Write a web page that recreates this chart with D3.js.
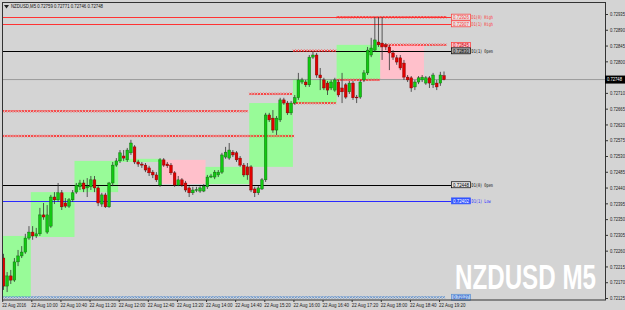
<!DOCTYPE html>
<html><head><meta charset="utf-8">
<script src="https://cdn.jsdelivr.net/npm/d3@7"></script>
<style>html,body{margin:0;padding:0;background:#d4d4d4;} svg{display:block}</style>
</head><body><svg id="c" width="625" height="310"></svg>
<script>
const open = [
0.72239,0.72159,0.72188,0.72176,0.72228,0.72245,0.72256,0.72296,0.72313,0.72302,
0.72308,0.72362,0.72313,0.72330,0.72413,0.72405,0.72425,0.72396,0.72387,0.72405,
0.72427,0.72442,0.72453,0.72439,0.72442,0.72462,0.72439,0.72393,0.72419,0.72385,
0.72453,0.72504,0.72516,0.72530,0.72519,0.72539,0.72556,0.72513,0.72507,0.72504,
0.72496,0.72484,0.72476,0.72447,0.72519,0.72507,0.72504,0.72482,0.72447,0.72462,
0.72453,0.72439,0.72425,0.72433,0.72430,0.72430,0.72442,0.72470,0.72470,0.72476,
0.72484,0.72527,0.72524,0.72541,0.72539,0.72524,0.72504,0.72499,0.72499,0.72436,
0.72425,0.72436,0.72462,0.72647,0.72638,0.72604,0.72633,0.72690,0.72681,0.72653,
0.72681,0.72696,0.72741,0.72741,0.72733,0.72812,0.72818,0.72761,0.72747,0.72738,
0.72724,0.72718,0.72741,0.72724,0.72733,0.72713,0.72738,0.72698,0.72698,0.72747,
0.72767,0.72818,0.72832,0.72855,0.72852,0.72847,0.72841,0.72824,0.72810,0.72810,
0.72795,0.72755,0.72753,0.72727,0.72741,0.72747,0.72738,0.72753,0.72733,0.72738,
0.72738,0.72759];
const close = [
0.72159,0.72188,0.72176,0.72228,0.72245,0.72256,0.72296,0.72313,0.72302,0.72308,
0.72362,0.72356,0.72362,0.72413,0.72405,0.72425,0.72385,0.72387,0.72405,0.72425,
0.72447,0.72453,0.72436,0.72444,0.72462,0.72439,0.72396,0.72419,0.72385,0.72453,
0.72504,0.72516,0.72539,0.72524,0.72547,0.72567,0.72513,0.72507,0.72504,0.72490,
0.72482,0.72476,0.72462,0.72519,0.72504,0.72502,0.72482,0.72447,0.72462,0.72447,
0.72433,0.72425,0.72433,0.72434,0.72439,0.72444,0.72470,0.72473,0.72484,0.72484,
0.72533,0.72541,0.72547,0.72533,0.72519,0.72504,0.72476,0.72476,0.72433,0.72425,
0.72439,0.72462,0.72647,0.72633,0.72604,0.72638,0.72690,0.72681,0.72653,0.72681,
0.72696,0.72747,0.72747,0.72733,0.72812,0.72818,0.72761,0.72753,0.72724,0.72718,
0.72741,0.72747,0.72704,0.72713,0.72698,0.72738,0.72696,0.72696,0.72741,0.72767,
0.72832,0.72838,0.72861,0.72847,0.72841,0.72841,0.72824,0.72812,0.72798,0.72781,
0.72755,0.72747,0.72724,0.72741,0.72753,0.72755,0.72753,0.72738,0.72761,0.72727,
0.72761,0.72748];
const high = [
0.72251,0.72199,0.72205,0.72239,0.72262,0.72273,0.72308,0.72330,0.72330,0.72325,
0.72382,0.72396,0.72390,0.72419,0.72427,0.72453,0.72433,0.72410,0.72410,0.72433,
0.72453,0.72462,0.72462,0.72467,0.72473,0.72473,0.72444,0.72425,0.72425,0.72456,
0.72513,0.72524,0.72547,0.72547,0.72553,0.72576,0.72561,0.72519,0.72513,0.72510,
0.72502,0.72490,0.72484,0.72524,0.72524,0.72513,0.72510,0.72487,0.72473,0.72467,
0.72459,0.72444,0.72442,0.72442,0.72444,0.72450,0.72476,0.72479,0.72490,0.72490,
0.72539,0.72556,0.72567,0.72547,0.72544,0.72530,0.72510,0.72510,0.72504,0.72442,
0.72444,0.72467,0.72653,0.72653,0.72661,0.72644,0.72696,0.72696,0.72687,0.72687,
0.72704,0.72767,0.72753,0.72747,0.72818,0.72827,0.72824,0.72781,0.72753,0.72744,
0.72747,0.72753,0.72747,0.72767,0.72738,0.72744,0.72744,0.72704,0.72747,0.72775,
0.72841,0.72867,0.72926,0.72926,0.72926,0.72852,0.72847,0.72832,0.72818,0.72818,
0.72804,0.72761,0.72758,0.72747,0.72758,0.72761,0.72758,0.72758,0.72767,0.72747,
0.72770,0.72771];
const low = [
0.72148,0.72142,0.72165,0.72171,0.72216,0.72239,0.72251,0.72291,0.72291,0.72296,
0.72302,0.72348,0.72308,0.72325,0.72393,0.72399,0.72376,0.72382,0.72382,0.72399,
0.72422,0.72433,0.72427,0.72413,0.72433,0.72427,0.72387,0.72385,0.72382,0.72382,
0.72444,0.72499,0.72510,0.72516,0.72513,0.72533,0.72507,0.72499,0.72496,0.72484,
0.72473,0.72467,0.72456,0.72442,0.72499,0.72496,0.72476,0.72442,0.72444,0.72442,
0.72427,0.72413,0.72419,0.72427,0.72425,0.72427,0.72436,0.72467,0.72464,0.72470,
0.72479,0.72522,0.72519,0.72527,0.72513,0.72499,0.72470,0.72462,0.72427,0.72413,
0.72419,0.72433,0.72456,0.72627,0.72596,0.72590,0.72627,0.72676,0.72647,0.72647,
0.72676,0.72690,0.72735,0.72727,0.72727,0.72807,0.72753,0.72718,0.72718,0.72704,
0.72718,0.72713,0.72698,0.72681,0.72693,0.72707,0.72690,0.72681,0.72693,0.72741,
0.72761,0.72812,0.72827,0.72841,0.72804,0.72832,0.72775,0.72804,0.72790,0.72775,
0.72747,0.72741,0.72713,0.72718,0.72735,0.72741,0.72733,0.72724,0.72724,0.72718,
0.72730,0.72746];

const timeLabels = ["22 Aug 2016","22 Aug 10:00","22 Aug 10:40","22 Aug 11:20","22 Aug 12:00","22 Aug 12:40","22 Aug 13:20","22 Aug 14:00","22 Aug 14:40","22 Aug 15:20","22 Aug 16:00","22 Aug 16:40","22 Aug 17:20","22 Aug 18:00","22 Aug 18:40","22 Aug 19:20"];
const timeLabelIdx = [0,8,16,24,32,40,48,56,64,72,80,88,96,104,112,120];
const priceTicks = [0.72935,0.72890,0.72845,0.72800,0.72755,0.72710,0.72665,0.72620,0.72575,0.72530,0.72485,0.72440,0.72395,0.72350,0.72305,0.72260,0.72215,0.72170,0.72125];

// hourly session boxes
const boxStart = [0,8,20,32,44,56,68,80,92,104];
const boxEnd   = [8,20,32,44,56,68,80,92,104,116];
const boxTop   = [0.72302,0.72427,0.72516,0.72522,0.72519,0.72499,0.72681,0.72750,0.72847,0.72847];
const boxBottom= [0.72128,0.72299,0.72427,0.72513,0.72450,0.72450,0.72499,0.72681,0.72750,0.72750];
const boxColor = ["#98fb98","#98fb98","#98fb98","#98fb98","#ffc0cb","#98fb98","#98fb98","#98fb98","#98fb98","#ffc0cb"];

// cross-marked levels
const xlPrice = [0.72926,0.72847,0.72830,0.72747,0.72707,0.72681,0.72658,0.72587,0.72127];
const xlStart = [92,104,80,92,68,80,0,0,0];
const xlEnd   = [122,122,92,104,80,92,68,80,122];
const xlColor = ["#ff2a2a","#ff2a2a","#ff2a2a","#ff2a2a","#ff2a2a","#ff2a2a","#ff2a2a","#ff2a2a","#5a8fd0"];

// daily levels
const lvName  = ["D1(0) High","D1(1) High","D1(1) Open","D1(0) Open","D1(1) Low"];
const lvPrice = [0.72926,0.72907,0.72830,0.72448,0.72402];
const lvColor = ["#ff3333","#ff3333","#000000","#000000","#2a2aff"];
// price tags at right of levels
const tagPrice = [0.72926,0.72907,0.72845,0.72830,0.72448,0.72402,0.72127];
const tagFill  = ["#e6e6e6","#e6e6e6","#ffc0cb","#a8a8a8","#e6e6e6","#3355ff","#a9c6ee"];
const tagStroke= ["#ff3333","#ff3333","#ff3333","#000000","#000000","#3355ff","#5a8fd0"];
const tagText  = ["#ff3333","#ff3333","#cc0000","#000000","#000000","#ffffff","#2255cc"];
const lastPrice = 0.72748;
const title = "NZDUSD,M5  0.72759 0.72771 0.72746 0.72748";

const svg = d3.select("#c");
const F = "'Liberation Sans', Arial, sans-serif";
const x = d3.scaleLinear().domain([0,121]).range([3.5,444]);
const y = d3.scaleLinear().domain([0.72125,0.72935]).range([298,14]);
const step = x(1)-x(0);

// squeeze a text horizontally to a target width around its anchor x
function fit(node, w, ax){
  const L = node.getComputedTextLength();
  if(!L) return;
  const s = w/L;
  node.setAttribute("transform", `translate(${ax},0) scale(${s},1) translate(${-ax},0)`);
}

svg.append("rect").attr("width",625).attr("height",310).attr("fill","#d4d4d4");
const plot = svg.append("g");
plot.append("clipPath").attr("id","clip").append("rect").attr("x",2.5).attr("y",2.5).attr("width",603).attr("height",297.5);
const g = plot.append("g").attr("clip-path","url(#clip)");

// boxes
boxStart.forEach((s,k)=>{
  g.append("rect").attr("x",x(s)-step/2).attr("width",x(boxEnd[k])-x(s))
   .attr("y",y(boxTop[k])).attr("height",y(boxBottom[k])-y(boxTop[k])).attr("fill",boxColor[k]);
});

// current price line
g.append("line").attr("x1",2).attr("x2",606).attr("y1",y(lastPrice)).attr("y2",y(lastPrice)).attr("stroke","#9a9a9a").attr("stroke-width",1);

// daily level lines
lvPrice.forEach((p,k)=>{
  g.append("line").attr("x1",2).attr("x2",451).attr("y1",Math.round(y(p))+0.5).attr("y2",Math.round(y(p))+0.5)
   .attr("stroke",lvColor[k]).attr("stroke-width",1);
});

// cross lines
xlPrice.forEach((p,k)=>{
  const yy = y(p), x0 = x(xlStart[k])-step/2, x1 = Math.min(x(xlEnd[k])-step/2, 449);
  let d = "";
  for(let xx=x0+1.2; xx<=x1; xx+=2.9){
    d += `M${xx-1.1},${yy-1.1}L${xx+1.1},${yy+1.1}M${xx-1.1},${yy+1.1}L${xx+1.1},${yy-1.1}`;
  }
  g.append("path").attr("d",d).attr("stroke",xlColor[k]).attr("stroke-width",0.9).attr("fill","none");
});

// candles
const idx = d3.range(open.length);
g.selectAll(".wick").data(idx).join("line")
  .attr("x1",i=>x(i)).attr("x2",i=>x(i)).attr("y1",i=>y(high[i])).attr("y2",i=>y(low[i]))
  .attr("stroke","#333").attr("stroke-width",0.8);
g.selectAll(".body").data(idx).join("rect")
  .attr("x",i=>x(i)-1.35).attr("width",2.7)
  .attr("y",i=>y(Math.max(open[i],close[i])))
  .attr("height",i=>Math.max(0.8,Math.abs(y(open[i])-y(close[i]))))
  .attr("fill",i=>close[i]>=open[i]?"#12c812":"#e00000")
  .attr("stroke",i=>close[i]>=open[i]?"#0b5e0b":"#700000").attr("stroke-width",0.4);

// tags
tagPrice.forEach((p,k)=>{
  const yy = y(p);
  svg.append("rect").attr("x",451.5).attr("y",yy-3).attr("width",19).attr("height",6)
    .attr("fill",tagFill[k]).attr("stroke",tagStroke[k]).attr("stroke-width",0.7);
  const t = svg.append("text").attr("x",453).attr("y",yy+1.8).attr("font-family",F).attr("font-size",5.2)
    .attr("fill",tagText[k]).text(d3.format(".5f")(p));
  fit(t.node(),16,453);
});
lvName.forEach((n,k)=>{
  const t = svg.append("text").attr("x",471.5).attr("y",y(lvPrice[k])+1.8).attr("font-family","'DejaVu Sans Mono', monospace")
    .attr("font-size",5).attr("fill",lvColor[k]).text(n);
  fit(t.node(), n.length*2.15, 471.5);
});

// watermark
const wm = svg.append("text").attr("x",455).attr("y",289.5).attr("font-family","'Liberation Sans Narrow','Liberation Sans',Arial,sans-serif")
  .attr("font-weight","bold").attr("font-size",36).attr("fill","#ffffff").text("NZDUSD M5");
fit(wm.node(),141,455);

// frame
svg.append("rect").attr("x",2.5).attr("y",2.5).attr("width",603).attr("height",297.5).attr("fill","none").attr("stroke","#333").attr("stroke-width",1);

// right axis (the tick hidden under the last-price tag is not labelled)
const ay = svg.append("g").attr("transform","translate(605.5,0)")
  .call(d3.axisRight(y).tickValues(priceTicks)
    .tickFormat(v => Math.abs(y(v)-y(lastPrice))<6 ? "" : d3.format(".5f")(v))
    .tickSize(2.5).tickPadding(2));
ay.select(".domain").remove();
ay.selectAll("line").attr("stroke","#333");
ay.selectAll("text").attr("font-family",F).attr("font-size",5.2).attr("fill","#222")
  .each(function(){ fit(this, 15, 4.5); });

// current price tag
svg.append("rect").attr("x",605).attr("y",y(lastPrice)-4).attr("width",20).attr("height",8).attr("fill","#000");
const lp = svg.append("text").attr("x",607).attr("y",y(lastPrice)+1.9).attr("font-family",F).attr("font-size",5.2)
  .attr("fill","#fff").text(d3.format(".5f")(lastPrice));
fit(lp.node(),15,607);

// bottom axis
const ax = svg.append("g").attr("transform","translate(0,300)")
  .call(d3.axisBottom(x).tickValues(timeLabelIdx).tickFormat((d,k)=>timeLabels[k]).tickSize(2).tickPadding(1.5));
ax.select(".domain").remove();
ax.selectAll("line").attr("stroke","#333").attr("transform",`translate(${-step/2+0.5},0)`);
ax.selectAll("text").attr("text-anchor","start").attr("font-family",F).attr("font-size",5.2).attr("fill","#222")
  .attr("x",-step/2)
  .each(function(d,k){ fit(this, k===0?24:26.5, -step/2); });

// title
svg.append("path").attr("d","M4,5 L9,5 L6.5,8.5 Z").attr("fill","#222");
const tt = svg.append("text").attr("x",11).attr("y",8.2).attr("font-family",F).attr("font-size",5.4).attr("fill","#111").text(title);
fit(tt.node(),92,11);
</script></body></html>
